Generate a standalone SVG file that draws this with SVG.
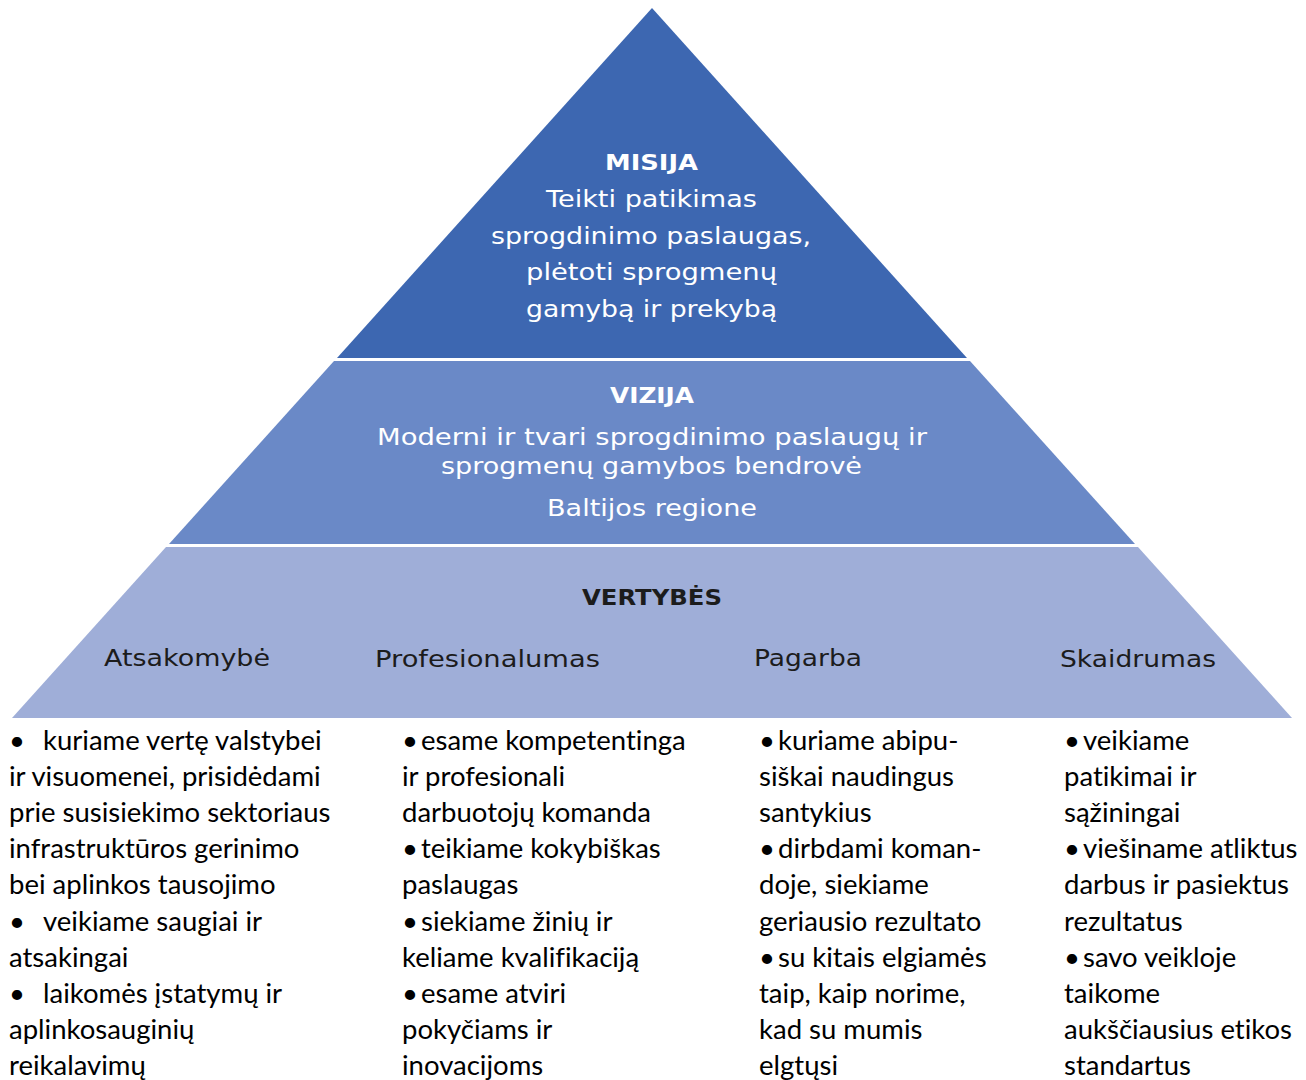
<svg xmlns="http://www.w3.org/2000/svg" width="1306" height="1080" viewBox="0 0 1306 1080">
  <style>
    .pt { font-family: "DejaVu Sans", Verdana, sans-serif; font-size: 23px; fill: #ffffff; }
    .ptb { font-family: "DejaVu Sans", Verdana, sans-serif; font-size: 22px; font-weight: bold; fill: #ffffff; }
    .dk { fill: #1c1c1c; }
    .bt { font-family: Lato, "Open Sans", sans-serif; font-size: 27.5px; fill: #000000; font-variant-ligatures: none; }
  </style>
  <rect x="0" y="0" width="1306" height="1080" fill="#ffffff"/>

  <g id="misija">
    <polygon points="652,8 967,358 337,358" fill="#3D67B1"/>
    <text class="ptb" x="605" y="170" textLength="93" lengthAdjust="spacingAndGlyphs">MISIJA</text>
    <text class="pt" x="546" y="207" textLength="211" lengthAdjust="spacingAndGlyphs">Teikti patikimas</text>
    <text class="pt" x="491" y="244" textLength="320" lengthAdjust="spacingAndGlyphs">sprogdinimo paslaugas,</text>
    <text class="pt" x="526" y="280" textLength="251" lengthAdjust="spacingAndGlyphs">plėtoti sprogmenų</text>
    <text class="pt" x="526" y="317" textLength="251" lengthAdjust="spacingAndGlyphs">gamybą ir prekybą</text>
  </g>

  <g id="vizija">
    <polygon points="334,361 970,361 1135,544 169,544" fill="#6A89C7"/>
    <text class="ptb" x="610" y="403" textLength="84" lengthAdjust="spacingAndGlyphs">VIZIJA</text>
    <text class="pt" x="377" y="445" textLength="550" lengthAdjust="spacingAndGlyphs">Moderni ir tvari sprogdinimo paslaugų ir</text>
    <text class="pt" x="441" y="474" textLength="421" lengthAdjust="spacingAndGlyphs">sprogmenų gamybos bendrovė</text>
    <text class="pt" x="547" y="516" textLength="210" lengthAdjust="spacingAndGlyphs">Baltijos regione</text>
  </g>

  <g id="vertybes">
    <polygon points="166,547 1138,547 1292,718 12,718" fill="#9FAED8"/>
    <text class="ptb dk" x="582" y="605" textLength="140" lengthAdjust="spacingAndGlyphs">VERTYBĖS</text>
    <text class="pt dk" x="104" y="666" textLength="166" lengthAdjust="spacingAndGlyphs">Atsakomybė</text>
    <text class="pt dk" x="375" y="667" textLength="225" lengthAdjust="spacingAndGlyphs">Profesionalumas</text>
    <text class="pt dk" x="754" y="666" textLength="108" lengthAdjust="spacingAndGlyphs">Pagarba</text>
    <text class="pt dk" x="1060" y="667" textLength="156" lengthAdjust="spacingAndGlyphs">Skaidrumas</text>
  </g>

  <g id="col-atsakomybe" class="bt">
    <text x="9" y="750">•</text>
    <text x="43" y="750">kuriame vertę valstybei</text>
    <text x="9" y="786">ir visuomenei, prisidėdami</text>
    <text x="9" y="822">prie susisiekimo sektoriaus</text>
    <text x="9" y="858">infrastruktūros gerinimo</text>
    <text x="9" y="894">bei aplinkos tausojimo</text>
    <text x="9" y="931">•</text>
    <text x="43" y="931">veikiame saugiai ir</text>
    <text x="9" y="967">atsakingai</text>
    <text x="9" y="1003">•</text>
    <text x="43" y="1003">laikomės įstatymų ir</text>
    <text x="9" y="1039">aplinkosauginių</text>
    <text x="9" y="1075">reikalavimų</text>
  </g>

  <g id="col-profesionalumas" class="bt">
    <text x="402" y="750">•</text>
    <text x="421" y="750">esame kompetentinga</text>
    <text x="402" y="786">ir profesionali</text>
    <text x="402" y="822">darbuotojų komanda</text>
    <text x="402" y="858">•</text>
    <text x="421" y="858">teikiame kokybiškas</text>
    <text x="402" y="894">paslaugas</text>
    <text x="402" y="931">•</text>
    <text x="421" y="931">siekiame žinių ir</text>
    <text x="402" y="967">keliame kvalifikaciją</text>
    <text x="402" y="1003">•</text>
    <text x="421" y="1003">esame atviri</text>
    <text x="402" y="1039">pokyčiams ir</text>
    <text x="402" y="1075">inovacijoms</text>
  </g>

  <g id="col-pagarba" class="bt">
    <text x="759" y="750">•</text>
    <text x="778" y="750">kuriame abipu-</text>
    <text x="759" y="786">siškai naudingus</text>
    <text x="759" y="822">santykius</text>
    <text x="759" y="858">•</text>
    <text x="778" y="858">dirbdami koman-</text>
    <text x="759" y="894">doje, siekiame</text>
    <text x="759" y="931">geriausio rezultato</text>
    <text x="759" y="967">•</text>
    <text x="778" y="967">su kitais elgiamės</text>
    <text x="759" y="1003">taip, kaip norime,</text>
    <text x="759" y="1039">kad su mumis</text>
    <text x="759" y="1075">elgtųsi</text>
  </g>

  <g id="col-skaidrumas" class="bt">
    <text x="1064" y="750">•</text>
    <text x="1083" y="750">veikiame</text>
    <text x="1064" y="786">patikimai ir</text>
    <text x="1064" y="822">sąžiningai</text>
    <text x="1064" y="858">•</text>
    <text x="1083" y="858">viešiname atliktus</text>
    <text x="1064" y="894">darbus ir pasiektus</text>
    <text x="1064" y="931">rezultatus</text>
    <text x="1064" y="967">•</text>
    <text x="1083" y="967">savo veikloje</text>
    <text x="1064" y="1003">taikome</text>
    <text x="1064" y="1039">aukščiausius etikos</text>
    <text x="1064" y="1075">standartus</text>
  </g>

  <g id="connectors"></g>
</svg>
